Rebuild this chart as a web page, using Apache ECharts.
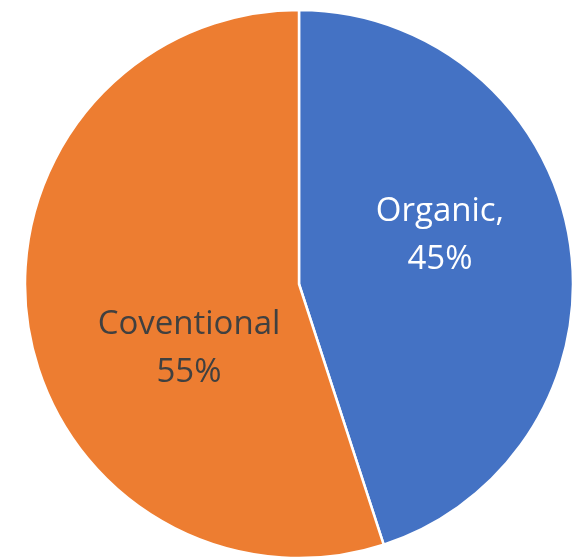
<!DOCTYPE html>
<html><head><meta charset="utf-8">
<script src="https://cdn.jsdelivr.net/npm/echarts@6/dist/echarts.min.js"></script>
<style>html,body{margin:0;padding:0;background:#fff}#c{width:578px;height:557px}</style>
</head><body><div id="c"></div>
<script>
const categories = ['Organic', 'Coventional'];
const values = [45, 55];
const labelTexts = ['Organic,\n45%', 'Coventional\n55%'];
const colors = ['#4472C4', '#ED7D31'];
const labelColors = ['#ffffff', '#404040'];
const labelPos = [[440, 236], [189, 349]];

const chart = echarts.init(document.getElementById('c'), null, {renderer: 'canvas'});
chart.setOption({
  animation: false,
  series: [{
    type: 'pie',
    center: [299, 284],
    radius: [0, 274],
    startAngle: 90,
    clockwise: true,
    itemStyle: {borderColor: '#fff', borderWidth: 2.5},
    label: {
      show: true, position: 'inside',
      fontFamily: 'Open Sans', fontSize: 33, lineHeight: 48,
      align: 'center', verticalAlign: 'middle'
    },
    labelLine: {show: false},
    labelLayout: function (p) {
      return {x: labelPos[p.dataIndex][0], y: labelPos[p.dataIndex][1], align: 'center', verticalAlign: 'middle'};
    },
    data: categories.map((c, i) => ({
      name: c, value: values[i],
      itemStyle: {color: colors[i]},
      label: {formatter: labelTexts[i], color: labelColors[i]}
    }))
  }]
});
</script></body></html>
